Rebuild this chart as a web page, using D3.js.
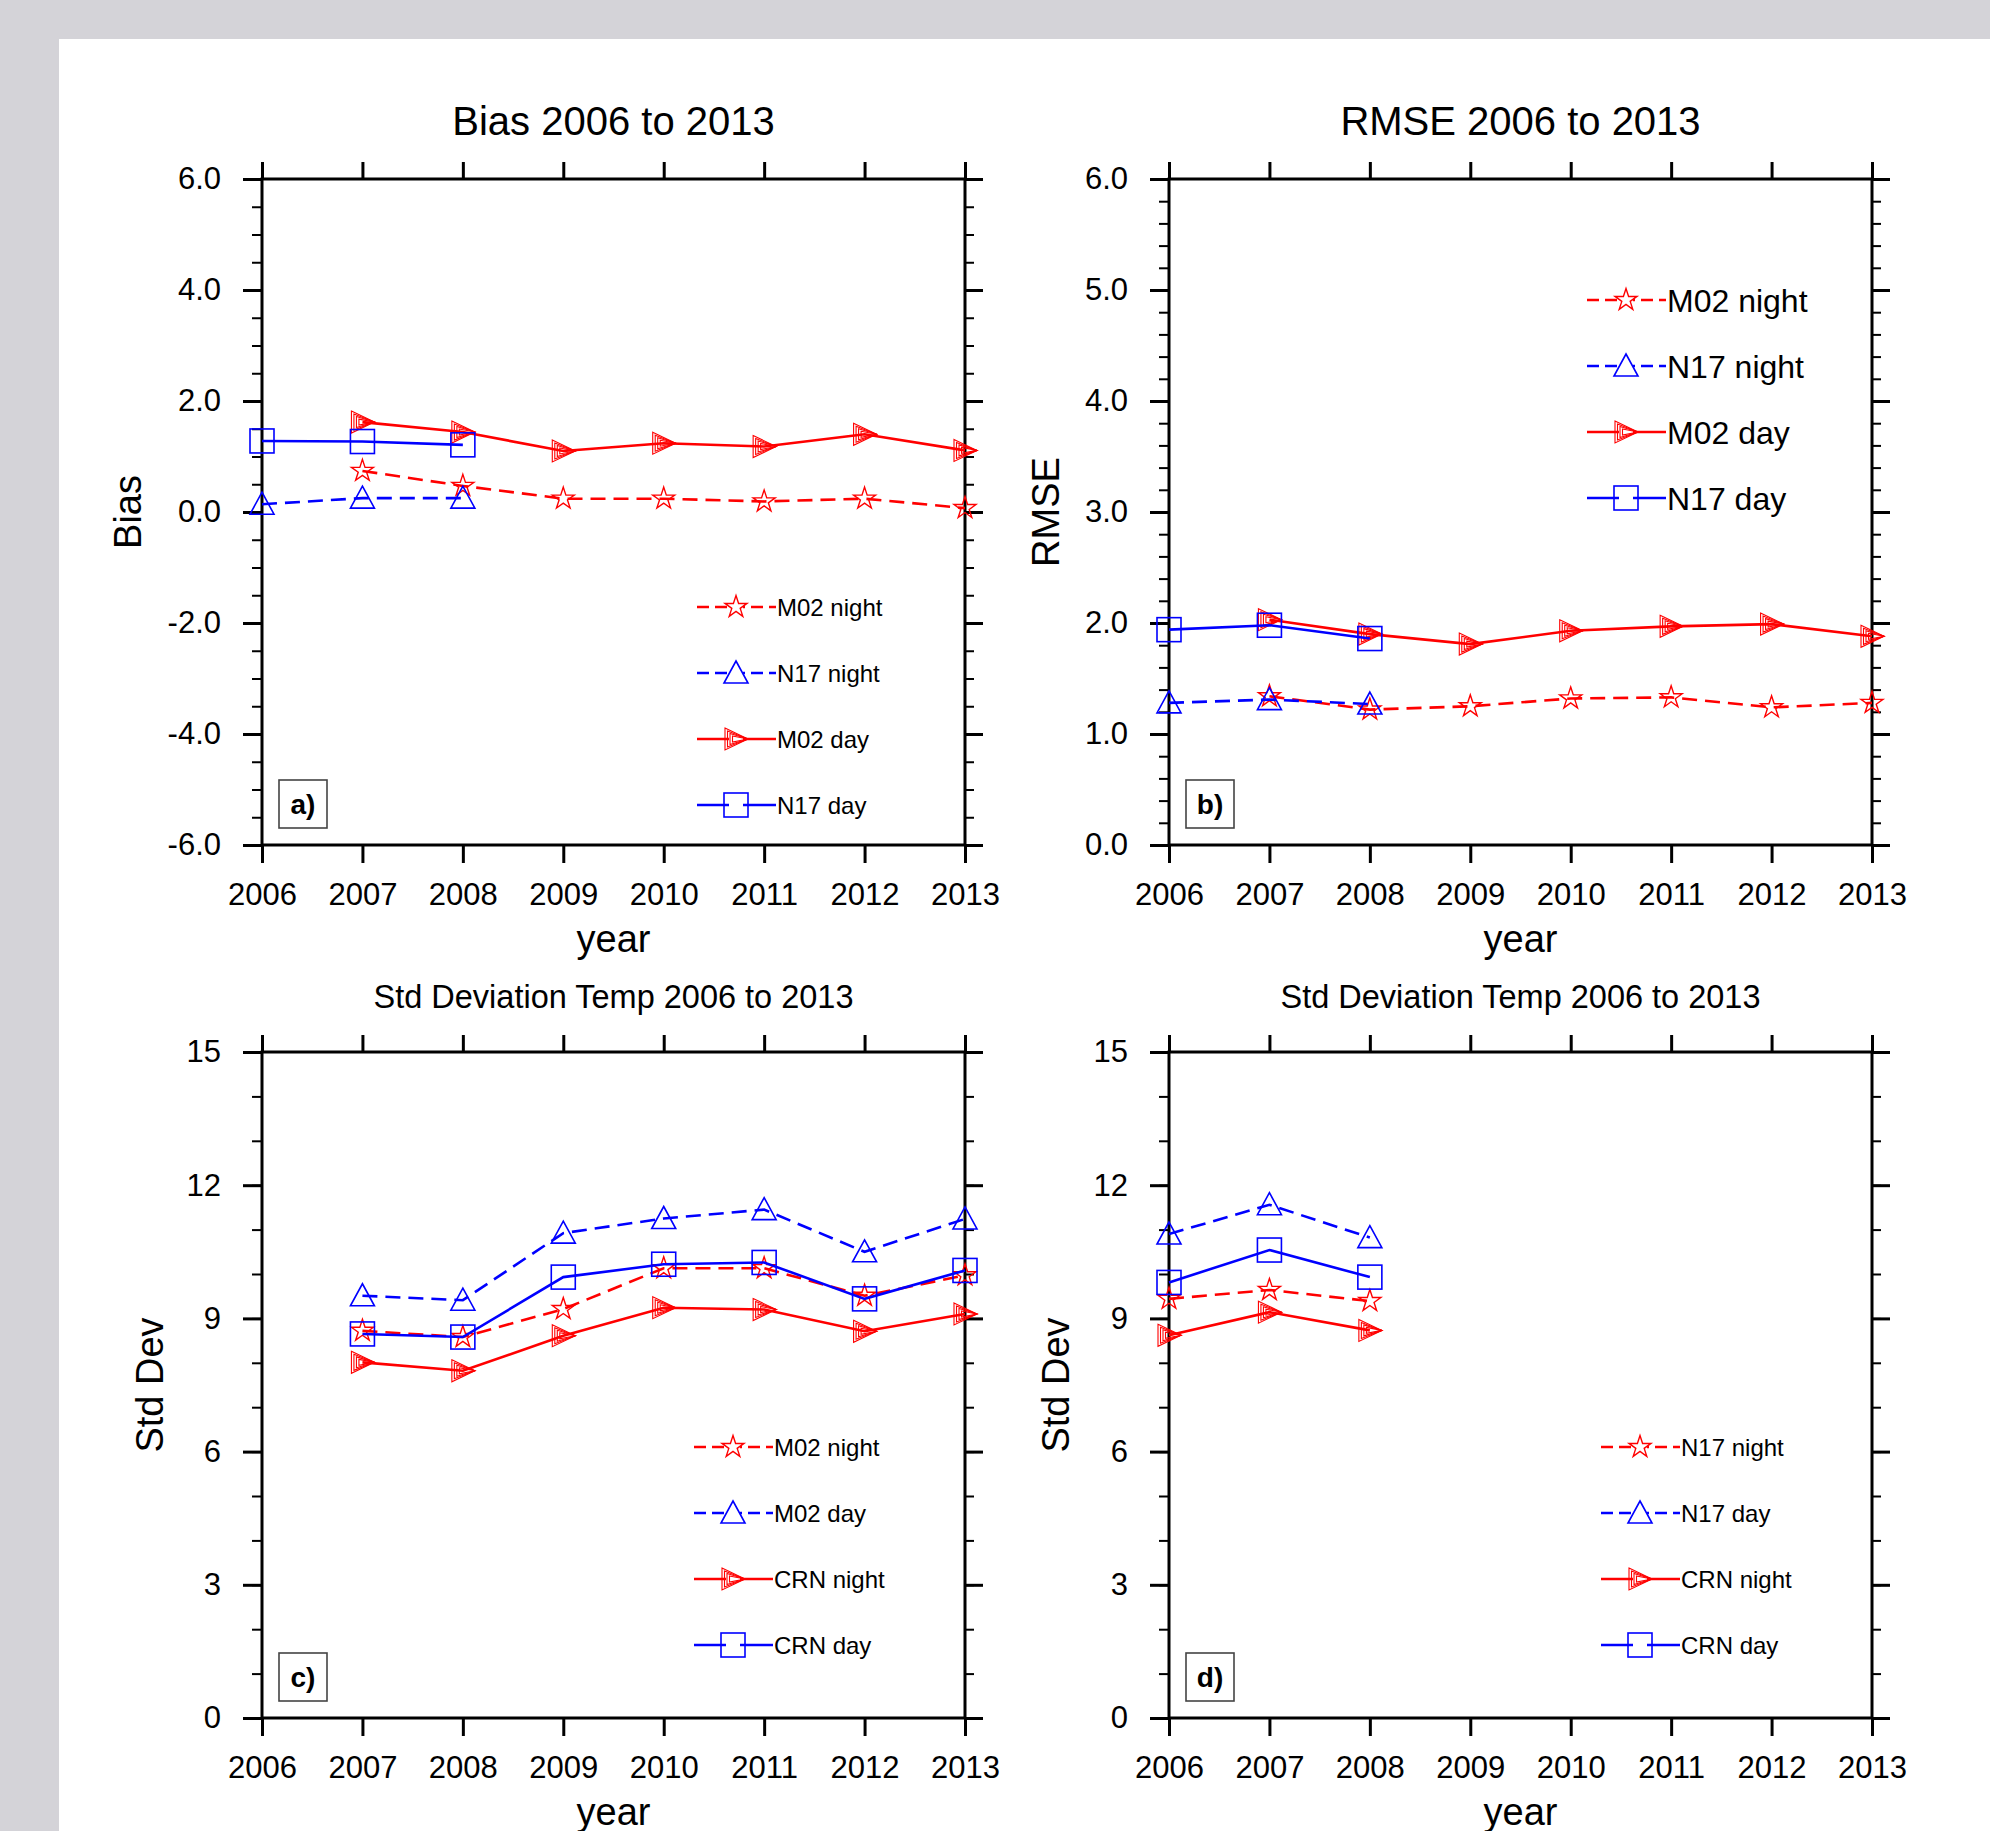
<!DOCTYPE html>
<html>
<head>
<meta charset="utf-8">
<script src="https://cdn.jsdelivr.net/npm/d3@7"></script>
<style>
body { margin: 0; background: #fff; }
svg text { font-family: "Liberation Sans", Arial, Helvetica, sans-serif; fill: #000; }
</style>
</head>
<body>
<svg id="chart" width="1990" height="1831"></svg>
<script>

// years on the x axis
var years = [2006, 2007, 2008, 2009, 2010, 2011, 2012, 2013];

// a) bias
var biasM02Night = [null, 0.74, 0.47, 0.24, 0.24, 0.19, 0.24, 0.07];
var biasN17Night = [0.14, 0.25, 0.25, null, null, null, null, null];
var biasM02Day   = [null, 1.62, 1.44, 1.10, 1.24, 1.18, 1.40, 1.11];
var biasN17Day   = [1.28, 1.27, 1.21, null, null, null, null, null];

// b) rmse
var rmseM02Night = [null, 1.34, 1.22, 1.25, 1.32, 1.33, 1.24, 1.28];
var rmseN17Night = [1.28, 1.31, 1.27, null, null, null, null, null];
var rmseM02Day   = [null, 2.03, 1.90, 1.81, 1.93, 1.97, 1.99, 1.88];
var rmseN17Day   = [1.94, 1.98, 1.86, null, null, null, null, null];

// c) std dev, M02 vs CRN
var stdM02Night  = [null, 8.72, 8.58, 9.21, 10.13, 10.13, 9.51, 9.97];
var stdM02Day    = [null, 9.51, 9.41, 10.92, 11.25, 11.45, 10.50, 11.24];
var stdCrnNightC = [null, 8.01, 7.82, 8.61, 9.24, 9.20, 8.71, 9.10];
var stdCrnDayC   = [null, 8.65, 8.58, 9.93, 10.22, 10.26, 9.44, 10.08];

// d) std dev, N17 vs CRN
var stdN17Night  = [9.44, 9.64, 9.39, null, null, null, null, null];
var stdN17Day    = [10.90, 11.56, 10.82, null, null, null, null, null];
var stdCrnNightD = [8.62, 9.14, 8.73, null, null, null, null, null];
var stdCrnDayD   = [9.81, 10.54, 9.93, null, null, null, null, null];

// tick labels
var biasTicks = [-6, -4, -2, 0, 2, 4, 6];
var rmseTicks = [0, 1, 2, 3, 4, 5, 6];
var stdTicks  = [0, 3, 6, 9, 12, 15];

var RED = "#ff0000", BLUE = "#0000ff";
var W = 703, H = 666;

// line / marker styles, NCL style
var styles = {
    redDashStar:  {color: RED,  dash: "15,8", marker: "star"},
    blueDashTri:  {color: BLUE, dash: "15,8", marker: "tri"},
    redSolidRTri: {color: RED,  dash: null,   marker: "rtri"},
    blueSolidSq:  {color: BLUE, dash: null,   marker: "square"}
};

var panels = [
    {left: 262, top: 179, title: "Bias 2006 to 2013", titleSize: 40, yLabel: "Bias", yLabelOff: 121,
     domain: [-6, 6], ticks: biasTicks, minorCount: 24, fmt: ".1f", tag: "a)",
     legendX: 435, legendY: 428, legendFont: 24,
     series: [
         {name: "M02 night", values: biasM02Night, style: "redDashStar"},
         {name: "N17 night", values: biasN17Night, style: "blueDashTri"},
         {name: "M02 day",   values: biasM02Day,   style: "redSolidRTri"},
         {name: "N17 day",   values: biasN17Day,   style: "blueSolidSq"}
     ]},
    {left: 1169, top: 179, title: "RMSE 2006 to 2013", titleSize: 40, yLabel: "RMSE", yLabelOff: 110,
     domain: [0, 6], ticks: rmseTicks, minorCount: 30, fmt: ".1f", tag: "b)",
     legendX: 418, legendY: 121, legendFont: 32,
     series: [
         {name: "M02 night", values: rmseM02Night, style: "redDashStar"},
         {name: "N17 night", values: rmseN17Night, style: "blueDashTri"},
         {name: "M02 day",   values: rmseM02Day,   style: "redSolidRTri"},
         {name: "N17 day",   values: rmseN17Day,   style: "blueSolidSq"}
     ]},
    {left: 262, top: 1052, title: "Std Deviation Temp 2006 to 2013", titleSize: 32.5, yLabel: "Std Dev", yLabelOff: 99,
     domain: [0, 15], ticks: stdTicks, minorCount: 15, fmt: "d", tag: "c)",
     legendX: 432, legendY: 395, legendFont: 24,
     series: [
         {name: "M02 night", values: stdM02Night,  style: "redDashStar"},
         {name: "M02 day",   values: stdM02Day,    style: "blueDashTri"},
         {name: "CRN night", values: stdCrnNightC, style: "redSolidRTri"},
         {name: "CRN day",   values: stdCrnDayC,   style: "blueSolidSq"}
     ]},
    {left: 1169, top: 1052, title: "Std Deviation Temp 2006 to 2013", titleSize: 32.5, yLabel: "Std Dev", yLabelOff: 100,
     domain: [0, 15], ticks: stdTicks, minorCount: 15, fmt: "d", tag: "d)",
     legendX: 432, legendY: 395, legendFont: 24,
     series: [
         {name: "N17 night", values: stdN17Night,  style: "redDashStar"},
         {name: "N17 day",   values: stdN17Day,    style: "blueDashTri"},
         {name: "CRN night", values: stdCrnNightD, style: "redSolidRTri"},
         {name: "CRN day",   values: stdCrnDayD,   style: "blueSolidSq"}
     ]}
];

var svg = d3.select("#chart");

// grey page border like the source viewer
svg.append("rect").attr("width", 1990).attr("height", 1831).attr("fill", "#d4d3d8");
svg.append("rect").attr("x", 59).attr("y", 39).attr("width", 1931).attr("height", 1792).attr("fill", "#fff");

function drawMarker(g, type, color) {
    if (type == "star") {
        g.append("path")
            .attr("d", d3.symbol(d3.symbolStar, 150)())
            .attr("fill", "none").attr("stroke", color).attr("stroke-width", 1.4);
    } else if (type == "tri") {
        g.append("path")
            .attr("d", "M0,-12L12,10L-12,10Z")
            .attr("fill", "none").attr("stroke", color).attr("stroke-width", 1.6);
    } else if (type == "square") {
        g.append("rect")
            .attr("x", -12).attr("y", -12).attr("width", 24).attr("height", 24)
            .attr("fill", "none").attr("stroke", color).attr("stroke-width", 1.6);
    } else if (type == "rtri") {
        // nested outlines give the hatched look of the NCL marker
        [[-11, 11], [-8.5, 8], [-6, 5.5], [-3.5, 3]].forEach(function (k) {
            g.append("path")
                .attr("d", "M" + k[0] + "," + (-k[1]) + "L12,0L" + k[0] + "," + k[1] + "Z")
                .attr("fill", "none").attr("stroke", color).attr("stroke-width", 1.1);
        });
    }
}

// NCL prints a plain hyphen for negatives
function tickFmt(spec) {
    var f = d3.format(spec);
    return function (d) { return f(d).replace("\u2212", "-"); };
}

panels.forEach(function (p) {

    var g = svg.append("g").attr("transform", "translate(" + p.left + "," + p.top + ")");

    var x = d3.scaleLinear().domain([years[0], years[years.length - 1]]).range([0, W]);
    var y = d3.scaleLinear().domain(p.domain).range([H, 0]);
    var minor = y.ticks(p.minorCount);

    function axisStyle(sel, width) {
        sel.select(".domain").remove();
        sel.selectAll(".tick line").attr("stroke", "#000").attr("stroke-width", width);
        sel.selectAll(".tick text").style("font-size", "31px");
    }

    // minor ticks
    g.append("g").call(d3.axisLeft(y).tickValues(minor).tickSize(10).tickFormat(""))
        .call(axisStyle, 2);
    g.append("g").attr("transform", "translate(" + W + ",0)")
        .call(d3.axisRight(y).tickValues(minor).tickSize(9).tickFormat(""))
        .call(axisStyle, 2);

    // major ticks
    g.append("g").attr("transform", "translate(0," + H + ")")
        .call(d3.axisBottom(x).tickValues(years).tickSize(18).tickPadding(20).tickFormat(d3.format("d")))
        .call(axisStyle, 3);
    g.append("g")
        .call(d3.axisTop(x).tickValues(years).tickSize(17).tickFormat(""))
        .call(axisStyle, 3);
    g.append("g")
        .call(d3.axisLeft(y).tickValues(p.ticks).tickSize(19).tickPadding(22).tickFormat(tickFmt(p.fmt)))
        .call(axisStyle, 3);
    g.append("g").attr("transform", "translate(" + W + ",0)")
        .call(d3.axisRight(y).tickValues(p.ticks).tickSize(18).tickFormat(""))
        .call(axisStyle, 3);

    // frame
    g.append("rect").attr("width", W).attr("height", H)
        .attr("fill", "none").attr("stroke", "#000").attr("stroke-width", 3);

    // titles
    g.append("text").attr("x", W / 2).attr("y", -44)
        .attr("text-anchor", "middle").style("font-size", p.titleSize + "px").text(p.title);
    g.append("text").attr("x", W / 2).attr("y", H + 107)
        .attr("text-anchor", "middle").style("font-size", "38px").text("year");
    g.append("text")
        .attr("transform", "translate(" + (-p.yLabelOff) + "," + (H / 2) + ") rotate(-90)")
        .attr("text-anchor", "middle").style("font-size", "38px").text(p.yLabel);

    // series
    var line = d3.line()
        .defined(function (d) { return d != null; })
        .x(function (d, i) { return x(years[i]); })
        .y(function (d) { return y(d); });

    p.series.forEach(function (s) {
        var st = styles[s.style];
        g.append("path").datum(s.values)
            .attr("d", line)
            .attr("fill", "none")
            .attr("stroke", st.color)
            .attr("stroke-width", 2.6)
            .attr("stroke-dasharray", st.dash);

        s.values.forEach(function (v, i) {
            if (v == null) return;
            var m = g.append("g").attr("transform", "translate(" + x(years[i]) + "," + y(v) + ")");
            drawMarker(m, st.marker, st.color);
        });
    });

    // legend
    var lg = g.append("g").attr("transform", "translate(" + p.legendX + "," + p.legendY + ")");
    p.series.forEach(function (s, i) {
        var st = styles[s.style];
        var row = lg.append("g").attr("transform", "translate(0," + (i * 66) + ")");
        row.append("line").attr("x1", 0).attr("x2", 79)
            .attr("stroke", st.color).attr("stroke-width", 2.6)
            .attr("stroke-dasharray", st.dash ? "12,6" : null);
        var m = row.append("g").attr("transform", "translate(39,0)");
        m.append("rect").attr("x", -7).attr("y", -3).attr("width", 14).attr("height", 6).attr("fill", "#fff");
        drawMarker(m, st.marker, st.color);
        row.append("text").attr("x", 80).attr("dy", "0.36em")
            .style("font-size", p.legendFont + "px").text(s.name);
    });

    // panel tag box
    var tg = g.append("g").attr("transform", "translate(17," + (H - 65) + ")");
    tg.append("rect").attr("width", 48).attr("height", 48)
        .attr("fill", "#fff").attr("stroke", "#444").attr("stroke-width", 1.6);
    tg.append("text").attr("x", 24).attr("y", 24).attr("dy", "0.36em")
        .attr("text-anchor", "middle").style("font-size", "28px").style("font-weight", "bold")
        .text(p.tag);
});

</script>
</body>
</html>
